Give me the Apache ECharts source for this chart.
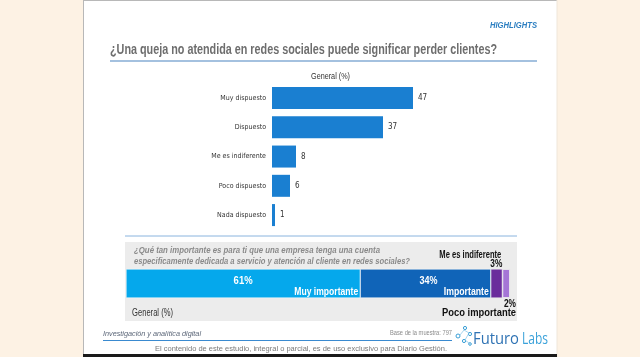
<!DOCTYPE html>
<html>
<head>
<meta charset="utf-8">
<script src="https://cdn.jsdelivr.net/npm/echarts@6/dist/echarts.min.js"></script>
<style>
html,body{margin:0;padding:0;background:#fdf2e4;}
#chart{width:640px;height:357px;}
</style>
</head>
<body>
<div id="chart"></div>
<script>
// ---- Data ----
const categories = ['Muy dispuesto', 'Dispuesto', 'Me es indiferente', 'Poco dispuesto', 'Nada dispuesto'];
const values = [47, 37, 8, 6, 1];

const segNames = ['Muy importante', 'Importante', 'Me es indiferente', 'Poco importante'];
const segValues = [61, 34, 3, 2];
const segColors = ['#05a8ec', '#1064b8', '#6a2c9c', '#a575d6'];

const titleText = '¿Una queja no atendida en redes sociales puede significar perder clientes?';
const questionLines = [
  '¿Qué tan importante es para ti que una empresa tenga una cuenta',
  'especificamente dedicada a servicio y atención al cliente en redes sociales?'
];

const COND = '"DejaVu Sans Condensed", "Liberation Sans", Arial, sans-serif';
const SANS = '"Liberation Sans", Arial, sans-serif';

// text width fitting helper (reference uses a condensed face)
const mctx = document.createElement('canvas').getContext('2d');
function fit(text, font, w) { mctx.font = font; return w / mctx.measureText(text).width; }
function ftext(id, text, x, y, font, w, fill, align, z) {
  return {
    type: 'text', id: id, x: x, y: y, scaleX: fit(text, font, w), z: z || 10,
    style: {text: text, font: font, fill: fill, textAlign: align || 'left', textVerticalAlign: 'middle'}
  };
}

const chart = echarts.init(document.getElementById('chart'), null, {renderer: 'canvas'});

const segSeries = segValues.map((v, i) => ({
  type: 'bar',
  name: segNames[i],
  xAxisIndex: 1, yAxisIndex: 1,
  stack: 'imp',
  barWidth: 29,
  data: [v],
  itemStyle: {
    color: segColors[i],
    borderColor: i >= 2 ? '#ececec' : '#ffffff',
    borderWidth: i === 3 ? 0.9 : (i === 2 ? 0.5 : 0.5)
  },
  silent: true,
  z: 2
}));

const baseGraphics = [
  // slide
  {type: 'rect', id: 'slide', shape: {x: 83, y: 0, width: 474, height: 357}, style: {fill: '#ffffff'}, z: -10},
  {type: 'line', id: 'bl', shape: {x1: 83.5, y1: 0, x2: 83.5, y2: 357}, style: {stroke: '#b8b8b8', lineWidth: 1}, z: -9},
  {type: 'line', id: 'bt', shape: {x1: 83, y1: 0.5, x2: 557, y2: 0.5}, style: {stroke: '#b8b8b8', lineWidth: 1}, z: -9},
  {type: 'line', id: 'br', shape: {x1: 557, y1: 0, x2: 557, y2: 357}, style: {stroke: '#efe6da', lineWidth: 1}, z: -9},
  {type: 'rect', id: 'bb', shape: {x: 83, y: 354, width: 474, height: 3}, style: {fill: '#1a1a1a'}, z: -9},
  // header
  ftext('hl', 'HIGHLIGHTS', 537, 26, 'italic bold 9px ' + SANS, 47, '#2d7fc1', 'right'),
  ftext('title', titleText, 110, 50, 'bold 14px ' + SANS, 387, '#6e6e6e', 'left'),
  {type: 'line', id: 'tl', shape: {x1: 110, y1: 61, x2: 537, y2: 61}, style: {stroke: '#86acd4', lineWidth: 1.5}},
  ftext('g1', 'General (%)', 311, 77, '9px ' + SANS, 39, '#333', 'left'),
  {type: 'line', id: 'ml', shape: {x1: 125, y1: 236, x2: 517, y2: 236}, style: {stroke: '#8ab4de', lineWidth: 1}},
  // grey panel
  {type: 'rect', id: 'panel', shape: {x: 125, y: 242, width: 392, height: 79}, style: {fill: '#ececec'}, z: -5},
  ftext('q1', questionLines[0], 134, 250, 'italic bold 9.5px ' + SANS, 246, '#8a8a8a', 'left'),
  ftext('q2', questionLines[1], 134, 261, 'italic bold 9.5px ' + SANS, 276, '#8a8a8a', 'left'),
  ftext('g2', 'General (%)', 132, 313, '10px ' + SANS, 41, '#333', 'left'),
  // footer
  ftext('inv', 'Investigación y analítica digital', 103, 334, 'italic 8px ' + SANS, 98, '#5b6678', 'left'),
  {type: 'line', id: 'fl', shape: {x1: 103, y1: 340.5, x2: 452, y2: 340.5}, style: {stroke: '#3a8ad0', lineWidth: 1}},
  ftext('base', 'Base de la muestra: 797', 452, 333, '7px ' + SANS, 62, '#8a8a8a', 'right'),
  ftext('disc', 'El contenido de este estudio, integral o parcial, es de uso exclusivo para Diario Gestión.', 155, 349, '7.5px ' + SANS, 292, '#7a7a7a', 'left'),
  // logo icon
  {type: 'circle', id: 'c1', shape: {cx: 458, cy: 336, r: 2}, style: {fill: 'none', stroke: '#3a9fd6', lineWidth: 1}},
  {type: 'circle', id: 'c2', shape: {cx: 465, cy: 328, r: 1.6}, style: {fill: 'none', stroke: '#3a9fd6', lineWidth: 1}},
  {type: 'circle', id: 'c3', shape: {cx: 470, cy: 334, r: 1.6}, style: {fill: 'none', stroke: '#3a9fd6', lineWidth: 1}},
  {type: 'circle', id: 'c4', shape: {cx: 464, cy: 341, r: 1.6}, style: {fill: 'none', stroke: '#3a9fd6', lineWidth: 1}},
  {type: 'circle', id: 'c5', shape: {cx: 470, cy: 344, r: 1.3}, style: {fill: 'none', stroke: '#3a9fd6', lineWidth: 1}},
  {type: 'polyline', id: 'pl', shape: {points: [[460, 335], [464, 330], [469, 333], [465, 340], [469, 343]]}, style: {stroke: '#7fc3e8', lineWidth: 0.7, fill: 'none'}},
  ftext('fu', 'Futuro', 473, 339, '17px "Open Sans", ' + SANS, 46, '#2f73b4', 'left'),
  ftext('la', 'Labs', 548, 339, '17px "Open Sans", ' + SANS, 26, '#3ba2da', 'right')
];

const option = {
  backgroundColor: '#fdf2e4',
  animation: false,
  graphic: {elements: baseGraphics},
  grid: [
    {left: 272, top: 83.4, width: 180, height: 146.3, containLabel: false},
    {left: 126, top: 269, width: 384, height: 29, containLabel: false}
  ],
  xAxis: [
    {gridIndex: 0, type: 'value', min: 0, max: 60, show: false},
    {gridIndex: 1, type: 'value', min: 0, max: 100, show: false}
  ],
  yAxis: [
    {
      gridIndex: 0, type: 'category', data: categories, inverse: true,
      axisLine: {show: false}, axisTick: {show: false}, splitLine: {show: false},
      axisLabel: {fontSize: 7, color: '#333', margin: 6, fontFamily: COND}
    },
    {gridIndex: 1, type: 'category', data: ['General'], show: false}
  ],
  series: [
    {
      type: 'bar',
      xAxisIndex: 0, yAxisIndex: 0,
      data: values,
      barWidth: 22,
      itemStyle: {color: '#1a7fd1'},
      label: {show: true, position: 'right', distance: 5, fontSize: 8, color: '#333', fontFamily: COND},
      silent: true
    }
  ].concat(segSeries)
};
chart.setOption(option);

// ---- labels of the stacked bar, placed through the chart's own scale ----
const finder = {xAxisIndex: 1, yAxisIndex: 1};
const cum = [0];
segValues.forEach((v, i) => cum.push(cum[i] + v));
const px = cum.map(c => chart.convertToPixel(finder, [c, 'General'])[0]);
const barCy = chart.convertToPixel(finder, [0, 'General'])[1];
const barTop = barCy - 14.5, barBot = barCy + 14.5;
const BOLD11 = 'bold 11px ' + SANS;
const BOLD10 = 'bold 10.5px ' + SANS;
const labelGraphics = [
  ftext('p0', segValues[0] + '%', (px[0] + px[1]) / 2, barCy - 3, BOLD11, 19, '#ffffff', 'center'),
  ftext('p1', segValues[1] + '%', (px[1] + px[2]) / 2 + 3, barCy - 3, BOLD11, 18, '#ffffff', 'center'),
  ftext('n0', segNames[0], px[1] - 2, barBot - 6, BOLD11, 64, '#ffffff', 'right'),
  ftext('n1', segNames[1], px[2] - 2, barBot - 6, BOLD11, 45, '#ffffff', 'right'),
  ftext('n2', segNames[2], px[3] - 1, barTop - 14, BOLD10, 62, '#111111', 'right'),
  ftext('p2', segValues[2] + '%', px[3], barTop - 5, BOLD10, 12, '#111111', 'right'),
  ftext('p3', segValues[3] + '%', px[4] + 6, barBot + 6, BOLD10, 12, '#111111', 'right'),
  ftext('n3', segNames[3], px[4] + 6, barBot + 15, BOLD10, 74, '#111111', 'right')
];
chart.setOption({graphic: {elements: baseGraphics.concat(labelGraphics)}});
</script>
</body>
</html>
